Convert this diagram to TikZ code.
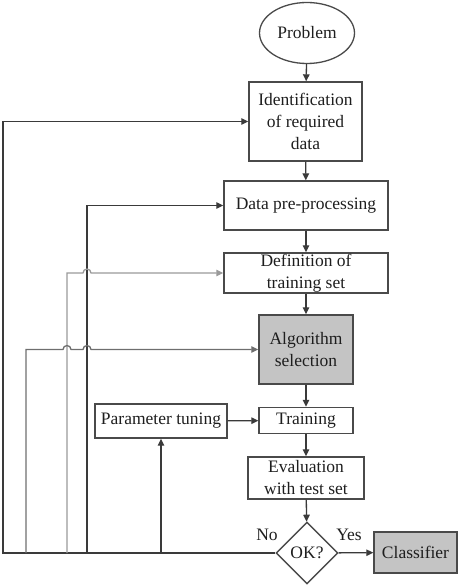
\documentclass[tikz,border=0pt]{standalone}
\usepackage{fontspec}
\setmainfont{Liberation Serif}
\usetikzlibrary{shapes.geometric,arrows.meta}
\definecolor{edgedark}{HTML}{3A3A3A}
\definecolor{edgemid}{HTML}{6E6E6E}
\definecolor{edgelight}{HTML}{9A9A9A}
\definecolor{boxline}{HTML}{4A4A4A}
\definecolor{boxgray}{HTML}{C4C4C4}
\definecolor{txt}{HTML}{1E1E1E}
\begin{document}
\begin{tikzpicture}[x=1pt,y=1pt,
  every node/.style={font=\fontsize{17.5}{22}\selectfont, text=txt},
  box/.style={draw=boxline, line width=1.4pt, rectangle, inner sep=0pt, align=center},
  graybox/.style={box, fill=boxgray},
  conn/.style={draw=edgedark, line width=1.3pt},
  arr/.style={conn, -{Triangle[length=7pt,width=6.5pt]}},
  hop/.style={}
]
\useasboundingbox (0,0) rectangle (461,-585);

% nodes
\node[draw=boxline, line width=1.3pt, ellipse, inner sep=0pt, minimum width=95, minimum height=61] (prob) at (307,-33) {Problem};
\node[box, minimum width=113, minimum height=79] (ident) at (305.5,-121.5) {Identification\\of required\\data};
\node[box, minimum width=164, minimum height=49] (data) at (306,-205.5) {Data pre-processing};
\node[box, minimum width=164, minimum height=40] (def) at (306,-273) {Definition of\\training set};
\node[graybox, minimum width=94, minimum height=69] (alg) at (306,-349.5) {Algorithm\\selection};
\node[box, minimum width=132, minimum height=34] (param) at (161,-421) {Parameter tuning};
\node[box, minimum width=94, minimum height=26] (train) at (306,-420.5) {Training};
\node[box, minimum width=116, minimum height=42] (eval) at (306,-478) {Evaluation\\with test set};
\node[draw=boxline, line width=1.4pt, diamond, inner sep=0pt, minimum width=62, minimum height=62] (ok) at (307,-553) {OK?};
\node[graybox, minimum width=83, minimum height=41] (cls) at (415.5,-552.5) {Classifier};
\node (no) at (267,-535) {No};
\node (yes) at (349,-535) {Yes};

% main flow
\draw[arr] (prob) -- (ident);
\draw[arr] (ident) -- (data);
\draw[arr] (data) -- (def);
\draw[arr] (def) -- (alg);
\draw[arr] (alg) -- (train);
\draw[arr] (train) -- (eval);
\draw[arr] (eval) -- (ok);
\draw[arr] (ok) -- (cls);
\draw[arr] (param) -- (train);

% feedback coordinates
\coordinate (c0) at (3,-553);
\coordinate (j26) at (26,-553);
\coordinate (j67) at (67,-553);
\coordinate (j87) at (87,-553);
\coordinate (j161) at (161,-553);

% feedback lines
\draw[arr] (ok.west) -- (c0) |- (ident.west);
\draw[arr] (j87) |- (data.west);
\draw[arr, draw=edgelight] (j67) -- (67,-273) -- (83,-273) arc[start angle=180, end angle=0, radius=4] -- (def.west);
\draw[arr, draw=edgemid] (j26) -- (26,-349.5) -- (63,-349.5) arc[start angle=180, end angle=0, radius=4] -- (83,-349.5) arc[start angle=180, end angle=0, radius=4] -- (alg.west);
\draw[arr] (j161) -- (param.south);
\end{tikzpicture}
\end{document}
